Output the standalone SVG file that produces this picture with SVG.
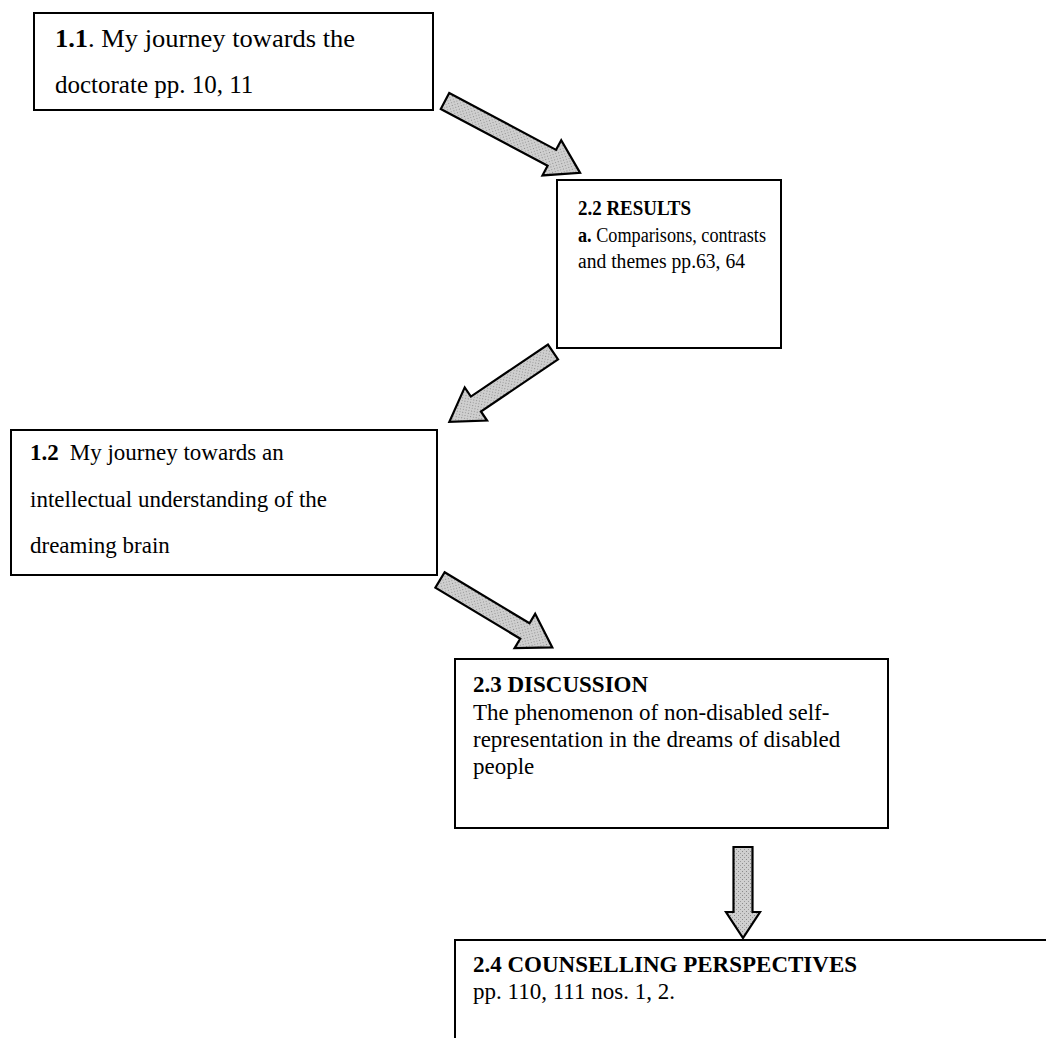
<svg xmlns="http://www.w3.org/2000/svg" width="1046" height="1038" viewBox="0 0 1046 1038">
<style>
.box{fill:#fff;stroke:#000;stroke-width:2}
.t{font-family:"Liberation Serif","Times New Roman",serif;font-size:23px;fill:#000}
.big{font-size:25px}
.sm{font-size:20px}
.b{font-weight:bold}
.arrow{stroke:#000;stroke-width:2.2;stroke-linejoin:miter}
</style>
<defs>
<pattern id="stip" width="4" height="4" patternUnits="userSpaceOnUse">
<rect width="4" height="4" fill="#cfcfcf"/>
<rect x="0" y="0" width="1" height="1" fill="#8a8a8a"/>
<rect x="2" y="2" width="1" height="1" fill="#9a9a9a"/>
</pattern>
</defs>
<rect width="1046" height="1038" fill="#fff"/>
<g id="connectors" fill="url(#stip)">
<path class="arrow" transform="translate(445,101) rotate(28)" d="M0,-9 L121,-9 L121,-20 L153,0 L121,20 L121,9 L0,9 Z"/>
<path class="arrow" transform="translate(553,352) rotate(146)" d="M0,-9 L93,-9 L93,-20 L125,0 L93,20 L93,9 L0,9 Z"/>
<path class="arrow" transform="translate(440,580) rotate(31)" d="M0,-9 L99,-9 L99,-20 L131,0 L99,20 L99,9 L0,9 Z"/>
<path class="arrow" transform="translate(743,847) rotate(90)" d="M0,-9.5 L65,-9.5 L65,-17 L91,0 L65,17 L65,9.5 L0,9.5 Z"/>
</g>
<g id="n11">
<rect class="box" x="34" y="13" width="399" height="97"/>
<text class="t big" x="55" y="47" textLength="300" lengthAdjust="spacingAndGlyphs"><tspan class="b">1.1</tspan>. My journey towards the</text>
<text class="t big" x="55" y="93">doctorate pp. 10, 11</text>
</g>
<g id="n22">
<rect class="box" x="557" y="180" width="224" height="168"/>
<text class="t sm b" x="578" y="215" textLength="113" lengthAdjust="spacingAndGlyphs">2.2 RESULTS</text>
<text class="t sm" x="578" y="242" textLength="188" lengthAdjust="spacingAndGlyphs"><tspan class="b">a.</tspan> Comparisons, contrasts</text>
<text class="t sm" x="578" y="268" textLength="167" lengthAdjust="spacingAndGlyphs">and themes pp.63, 64</text>
</g>
<g id="n12">
<rect class="box" x="11" y="430" width="426" height="145"/>
<text class="t" x="30" y="460"><tspan class="b">1.2</tspan><tspan dx="11">My journey towards an</tspan></text>
<text class="t" x="30" y="507">intellectual understanding of the</text>
<text class="t" x="30" y="553">dreaming brain</text>
</g>
<g id="n23">
<rect class="box" x="455" y="659" width="433" height="169"/>
<text class="t b" x="473" y="692">2.3 DISCUSSION</text>
<text class="t" x="473" y="720">The phenomenon of non-disabled self-</text>
<text class="t" x="473" y="747">representation in the dreams of disabled</text>
<text class="t" x="473" y="774">people</text>
</g>
<g id="n24">
<rect class="box" x="455" y="940" width="620" height="130"/>
<text class="t b" x="473" y="972">2.4 COUNSELLING PERSPECTIVES</text>
<text class="t" x="473" y="999">pp. 110, 111 nos. 1, 2.</text>
</g>
</svg>
